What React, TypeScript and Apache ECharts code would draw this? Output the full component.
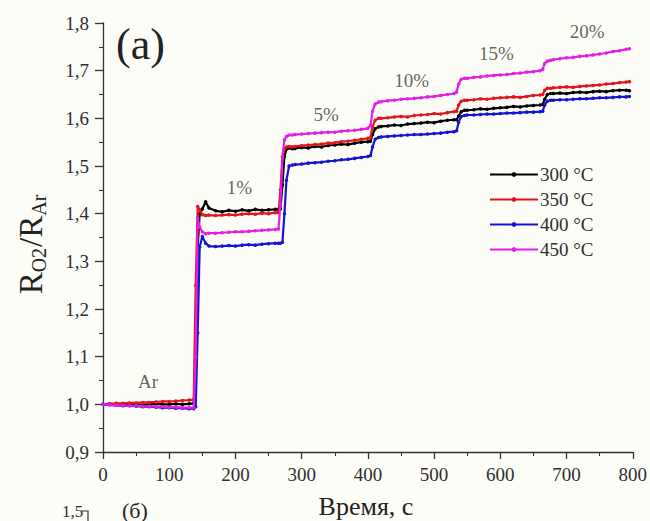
import React, { useEffect, useRef } from "react";
import * as echarts from "echarts";

// Sampling times, s (denser around each gas switch)
const times = [
  0, 10, 20, 30, 40, 50, 60, 70, 80, 90, 100, 110, 120, 130, 137,
  140, 143, 146, 150, 155, 160,
  170, 180, 190, 200, 210, 220, 230, 240, 250, 260, 265,
  268, 271, 274, 277, 281, 286,
  290, 300, 310, 320, 330, 340, 350, 360, 370, 380, 390, 400,
  404, 407, 411, 416,
  420, 430, 440, 450, 460, 470, 480, 490, 500, 510, 520, 530,
  534, 537, 541, 546,
  550, 560, 570, 580, 590, 600, 610, 620, 630, 640, 650, 660,
  664, 667, 671, 676,
  680, 690, 700, 710, 720, 730, 740, 750, 760, 770, 780, 790, 795,
];

const r300 = [
  1.0, 1.001, 0.999, 1.0, 1.001, 1.0, 0.999, 1.0, 1.001, 1.0, 1.0, 1.001, 1.0, 1.001, 1.002,
  1.1, 1.33, 1.4, 1.41, 1.425, 1.412,
  1.406, 1.404, 1.407, 1.405, 1.408, 1.406, 1.409, 1.407, 1.408, 1.409, 1.409,
  1.41, 1.46, 1.52, 1.535, 1.538, 1.536,
  1.537, 1.539, 1.538, 1.541, 1.54, 1.543, 1.544, 1.546, 1.545, 1.548, 1.55, 1.551,
  1.552, 1.566, 1.578, 1.582,
  1.583, 1.584, 1.586, 1.585, 1.588, 1.589, 1.59, 1.592, 1.591, 1.594, 1.596, 1.597,
  1.597, 1.605, 1.614, 1.617,
  1.617, 1.618, 1.62, 1.619, 1.621, 1.622, 1.623, 1.625, 1.624, 1.626, 1.627, 1.628,
  1.629, 1.64, 1.65, 1.652,
  1.652, 1.653, 1.652, 1.654, 1.655, 1.654, 1.656, 1.657, 1.656, 1.658, 1.659, 1.659, 1.658,
];

const r350 = [
  1.0, 1.001, 1.002, 1.002, 1.003, 1.003, 1.004, 1.004, 1.005, 1.006, 1.006, 1.007, 1.008, 1.009, 1.01,
  1.25, 1.415, 1.408, 1.398, 1.396, 1.397,
  1.396, 1.397, 1.398, 1.397, 1.399, 1.4, 1.399, 1.401, 1.4, 1.402, 1.402,
  1.45, 1.52, 1.536, 1.54, 1.541, 1.54,
  1.541, 1.543, 1.544, 1.545, 1.546, 1.548, 1.549, 1.551, 1.552, 1.554, 1.556, 1.558,
  1.56, 1.583, 1.596, 1.6,
  1.6, 1.601, 1.603, 1.604, 1.603, 1.606, 1.607, 1.608, 1.61, 1.609, 1.612, 1.614,
  1.615, 1.628, 1.636, 1.638,
  1.638, 1.639, 1.641, 1.64, 1.642, 1.643, 1.644, 1.645, 1.644, 1.646, 1.648, 1.649,
  1.65, 1.659, 1.663, 1.663,
  1.664, 1.665, 1.666, 1.665, 1.667, 1.668, 1.669, 1.67, 1.672, 1.673, 1.675, 1.676, 1.677,
];

const r400 = [
  1.0, 0.999, 0.998, 0.997, 0.997, 0.996, 0.995, 0.995, 0.994, 0.993, 0.993, 0.992, 0.992, 0.991, 0.991,
  0.995, 1.15, 1.33, 1.352, 1.338, 1.332,
  1.331, 1.332, 1.333, 1.332, 1.334, 1.335, 1.334, 1.336, 1.337, 1.338, 1.338,
  1.338, 1.34, 1.4, 1.47, 1.5, 1.502,
  1.503, 1.504, 1.506, 1.507, 1.508, 1.51, 1.511, 1.513, 1.514, 1.516, 1.518, 1.52,
  1.522, 1.54, 1.556, 1.56,
  1.561, 1.562, 1.563, 1.564, 1.565, 1.566, 1.566, 1.567, 1.568, 1.569, 1.571, 1.572,
  1.574, 1.592, 1.604, 1.606,
  1.607, 1.607, 1.608, 1.609, 1.609, 1.61, 1.611, 1.611, 1.612, 1.613, 1.613, 1.614,
  1.615, 1.628, 1.636, 1.638,
  1.638, 1.639, 1.639, 1.64, 1.641, 1.641, 1.642, 1.643, 1.643, 1.644, 1.645, 1.645, 1.646,
];

const r450 = [
  1.0, 0.999, 0.998, 0.998, 0.997, 0.997, 0.996, 0.996, 0.995, 0.995, 0.994, 0.994, 0.993, 0.993, 0.993,
  1.1, 1.39, 1.372, 1.362, 1.358, 1.359,
  1.359, 1.36, 1.361, 1.362, 1.362, 1.363, 1.364, 1.365, 1.366, 1.367, 1.368,
  1.42, 1.52, 1.555, 1.562, 1.565, 1.565,
  1.566, 1.567, 1.568, 1.569, 1.57, 1.571, 1.571, 1.573, 1.574, 1.575, 1.577, 1.579,
  1.585, 1.615, 1.63, 1.634,
  1.635, 1.637, 1.638, 1.64, 1.641, 1.642, 1.643, 1.645, 1.646, 1.648, 1.65, 1.652,
  1.655, 1.672, 1.682, 1.684,
  1.684, 1.686, 1.687, 1.689, 1.69, 1.691, 1.692, 1.694, 1.695, 1.697, 1.698, 1.7,
  1.703, 1.715, 1.72, 1.722,
  1.723, 1.725, 1.727, 1.728, 1.73, 1.731, 1.733, 1.735, 1.737, 1.74, 1.742, 1.745, 1.746,
];

const seriesNames = ["300 °C", "350 °C", "400 °C", "450 °C"];
const seriesColors = ["#000000", "#e3141c", "#1414d2", "#e41ee4"];
const seriesValues = [r300, r350, r400, r450];

// Oxygen concentration steps and where their labels sit (time, ratio)
const stepLabels = ["Ar", "1%", "5%", "10%", "15%", "20%"];
const stepLabelAt: [number, number][] = [
  [68, 1.047],
  [206, 1.454],
  [337, 1.609],
  [466, 1.68],
  [594, 1.737],
  [731, 1.782],
];

const serif = "'Liberation Serif', 'DejaVu Serif', serif";
const textColor = "#2e2e2e";

export default function App() {
  const ref = useRef<HTMLDivElement>(null);

  useEffect(() => {
    if (!ref.current) return;
    const chart = echarts.init(ref.current, null, { renderer: "svg" });

    const series: any[] = seriesNames.map((name, i) => ({
      name,
      type: "line",
      data: times.map((t, k) => [t, seriesValues[i][k]]),
      symbol: "circle",
      symbolSize: 3.5,
      showSymbol: true,
      lineStyle: { width: 2.2, color: seriesColors[i] },
      itemStyle: { color: seriesColors[i] },
      z: 2 + i,
    }));

    series.push({
      name: "labels",
      type: "scatter",
      data: stepLabelAt.map((p, i) => ({ value: p, name: stepLabels[i] })),
      symbolSize: 0,
      silent: true,
      label: {
        show: true,
        position: "inside",
        formatter: (p: any) => p.name,
        fontFamily: serif,
        fontSize: 19,
        color: "#3a3a3a",
      },
      z: 10,
    });

    chart.setOption({
      animation: false,
      backgroundColor: "#fdfdf8",
      grid: { left: 103, right: 15, top: 23, bottom: 69, containLabel: false },
      legend: {
        data: seriesNames,
        orient: "vertical",
        left: 489,
        top: 165,
        padding: 0,
        itemWidth: 48,
        itemHeight: 6,
        itemGap: 6,
        textStyle: { fontFamily: serif, fontSize: 19, lineHeight: 19, color: textColor, padding: [0, 0, 0, -3] },
      },
      xAxis: {
        type: "value",
        min: 0,
        max: 800,
        interval: 100,
        axisLine: { lineStyle: { color: "#333", width: 1.3 } },
        axisTick: { length: 7, lineStyle: { color: "#333", width: 1.3 } },
        minorTick: { show: true, splitNumber: 2, length: 4, lineStyle: { color: "#333", width: 1.1 } },
        splitLine: { show: false },
        axisLabel: { fontFamily: serif, fontSize: 19, color: textColor, margin: 13 },
      },
      yAxis: {
        type: "value",
        min: 0.9,
        max: 1.8,
        interval: 0.1,
        axisLine: { show: true, lineStyle: { color: "#333", width: 1.3 } },
        axisTick: { show: true, length: 8, lineStyle: { color: "#333", width: 1.3 } },
        minorTick: { show: true, splitNumber: 2, length: 4, lineStyle: { color: "#333", width: 1.1 } },
        splitLine: { show: false },
        axisLabel: {
          fontFamily: serif,
          fontSize: 19,
          color: textColor,
          margin: 14,
          formatter: (v: number) => v.toFixed(1).replace(".", ","),
        },
      },
      graphic: [
        {
          type: "text",
          left: 116,
          top: 22,
          style: { text: "(a)", font: `44px ${serif}`, fill: "#222" },
        },
        {
          type: "text",
          x: 31,
          y: 244,
          rotation: Math.PI / 2,
          style: {
            text: "{a|R}{b|O2}{a|/R}{b|Ar}",
            align: "center",
            verticalAlign: "middle",
            fill: "#222",
            rich: {
              a: { fontFamily: serif, fontSize: 33, lineHeight: 36, fill: "#222", verticalAlign: "middle" },
              b: { fontFamily: serif, fontSize: 20, lineHeight: 20, fill: "#222", verticalAlign: "bottom", padding: [0, 1, 0, 0] },
            },
          },
        },
        {
          type: "text",
          x: 366,
          y: 506,
          style: {
            text: "Время, с",
            align: "center",
            verticalAlign: "middle",
            font: `26px ${serif}`,
            fill: "#222",
          },
        },
        // top of the next panel, cut by the page edge
        {
          type: "text",
          x: 62,
          y: 503,
          style: { text: "1,5", font: `17px ${serif}`, fill: textColor },
        },
        {
          type: "polyline",
          shape: { points: [[81, 511], [88, 511], [88, 521]] },
          style: { stroke: "#333", lineWidth: 1.2, fill: "none" },
        },
        {
          type: "text",
          x: 122,
          y: 499,
          style: { text: "(б)", font: `22px ${serif}`, fill: "#222" },
        },
      ],
      series,
    });

    return () => chart.dispose();
  }, []);

  return (
    <div
      ref={ref}
      style={{ position: "absolute", left: 0, top: 0, width: 650, height: 521, overflow: "hidden" }}
    />
  );
}
